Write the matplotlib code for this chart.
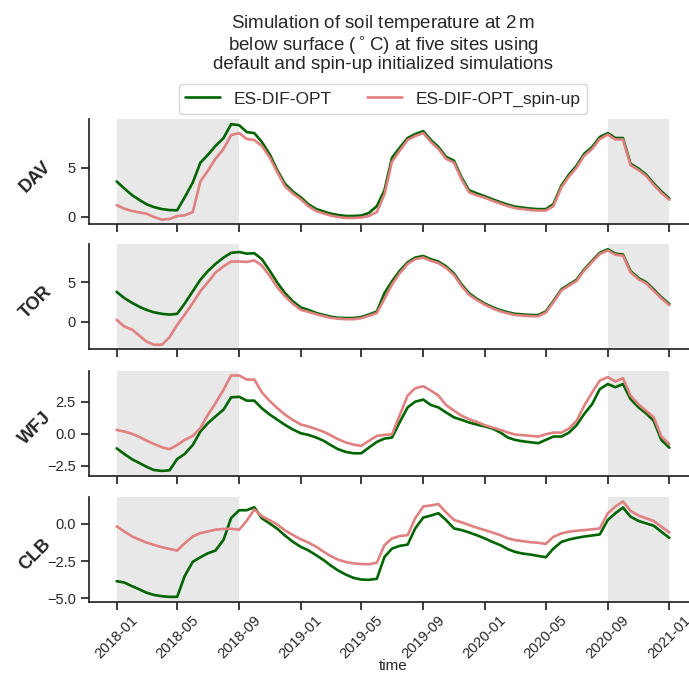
import numpy as np
import pandas as pd
import matplotlib
matplotlib.use("Agg")
import matplotlib.pyplot as plt
import matplotlib.dates as mdates
import seaborn as sns

# semi-monthly sampling dates (1st and 16th of each month), 2018-01-01 .. 2021-01-01
month_starts = pd.date_range("2018-01-01", "2020-12-01", freq="MS")
dates = []
for m in month_starts:
    dates.append(m)
    dates.append(m + pd.Timedelta(days=15))
dates.append(pd.Timestamp("2021-01-01"))

sites = ["DAV", "TOR", "WFJ", "CLB"]
series_names = ["ES-DIF-OPT", "ES-DIF-OPT_spin-up"]

# soil temperature at 2 m (deg C), default initialisation
dav_default = [3.6, 2.9, 2.2, 1.7, 1.3, 1.0, 0.8, 0.7, 0.68, 2.0, 3.5, 5.5,
               6.3, 7.2, 8.0, 9.4, 9.3, 8.6, 8.5, 7.6, 6.3, 4.7, 3.35, 2.6,
               2.0, 1.3, 0.8, 0.55, 0.35, 0.2, 0.1, 0.1, 0.15, 0.4, 1.1, 2.7,
               6.0, 7.0, 8.0, 8.4, 8.7, 7.8, 7.1, 6.1, 5.7, 4.0, 2.7, 2.4,
               2.1, 1.8, 1.5, 1.25, 1.05, 0.95, 0.85, 0.8, 0.8, 1.3, 3.2, 4.3,
               5.2, 6.4, 7.1, 8.1, 8.5, 8.0, 8.0, 5.4, 4.9, 4.3, 3.4, 2.6,
               1.88]
tor_default = [3.77, 3.0, 2.37, 1.86, 1.5, 1.19, 1.0, 0.9, 1.0, 2.3, 3.85, 5.3,
               6.4, 7.3, 8.1, 8.7, 8.8, 8.6, 8.65, 7.9, 6.4, 4.9, 3.6, 2.6,
               1.8, 1.5, 1.1, 0.85, 0.65, 0.5, 0.47, 0.47, 0.6, 0.9, 1.3, 3.6,
               5.1, 6.4, 7.5, 8.1, 8.3, 7.9, 7.6, 7.0, 6.1, 4.7, 3.6, 2.9,
               2.3, 1.85, 1.45, 1.2, 1.0, 0.93, 0.85, 0.85, 1.3, 2.6, 4.1, 4.7,
               5.3, 6.6, 7.7, 8.7, 9.15, 8.6, 8.5, 6.4, 5.5, 5.0, 4.07, 3.1,
               2.25]
wfj_default = [-1.13, -1.57, -2.0, -2.3, -2.57, -2.83, -2.9, -2.85, -1.97, -1.57, -0.87, 0.18,
               0.84, 1.36, 1.9, 2.86, 2.9, 2.6, 2.6, 2.0, 1.5, 1.1, 0.7, 0.35,
               0.05, -0.08, -0.29, -0.55, -0.87, -1.2, -1.42, -1.52, -1.52, -1.08, -0.63, -0.37,
               -0.29, 0.89, 2.07, 2.52, 2.68, 2.26, 2.07, 1.68, 1.29, 1.1, 0.89, 0.73,
               0.58, 0.42, 0.1, -0.29, -0.47, -0.58, -0.66, -0.73, -0.47, -0.21, -0.21, 0.1,
               0.68, 1.55, 2.34, 3.5, 3.9, 3.65, 3.9, 2.73, 2.07, 1.6, 1.02, -0.47,
               -1.08]
clb_default = [-3.85, -3.94, -4.19, -4.41, -4.62, -4.77, -4.86, -4.9, -4.9, -3.5, -2.55, -2.25,
               -1.98, -1.8, -1.08, 0.38, 0.9, 0.9, 1.1, 0.36, 0.0, -0.35, -0.8, -1.2,
               -1.55, -1.78, -2.12, -2.45, -2.79, -3.13, -3.42, -3.63, -3.74, -3.76, -3.69, -2.23,
               -1.67, -1.49, -1.4, -0.32, 0.41, 0.54, 0.7, 0.25, -0.32, -0.43, -0.59, -0.77,
               -0.99, -1.22, -1.44, -1.71, -1.89, -2.0, -2.07, -2.16, -2.25, -1.67, -1.22, -1.06,
               -0.95, -0.86, -0.79, -0.72, 0.25, 0.7, 1.08, 0.47, 0.18, 0.02, -0.14, -0.54,
               -0.95]

# soil temperature at 2 m (deg C), spin-up initialisation
dav_spinup = [1.2, 0.85, 0.6, 0.45, 0.34, 0.0, -0.27, -0.2, 0.1, 0.17, 0.5, 3.6,
              4.7, 5.9, 6.9, 8.3, 8.5, 7.9, 7.8, 7.2, 6.0, 4.5, 3.1, 2.4,
              1.8, 1.1, 0.6, 0.35, 0.15, 0.0, -0.1, -0.1, -0.05, 0.1, 0.5, 2.3,
              5.6, 6.7, 7.8, 8.2, 8.5, 7.6, 6.9, 5.9, 5.5, 3.8, 2.5, 2.2,
              1.95, 1.65, 1.35, 1.1, 0.9, 0.8, 0.7, 0.65, 0.65, 1.1, 3.0, 4.1,
              5.0, 6.2, 6.9, 7.9, 8.35, 7.85, 7.85, 5.25, 4.75, 4.15, 3.25, 2.45,
              1.75]
tor_spinup = [0.25, -0.6, -1.0, -1.8, -2.5, -2.9, -2.9, -1.95, -0.4, 0.9, 2.37, 3.85,
              5.0, 6.2, 7.0, 7.6, 7.6, 7.55, 7.75, 7.1, 5.75, 4.3, 3.2, 2.3,
              1.5, 1.25, 0.95, 0.7, 0.5, 0.38, 0.32, 0.32, 0.45, 0.75, 1.1, 2.9,
              4.7, 6.1, 7.3, 7.9, 8.1, 7.7, 7.4, 6.8, 5.9, 4.5, 3.4, 2.75,
              2.15, 1.7, 1.3, 1.05, 0.85, 0.78, 0.7, 0.7, 1.15, 2.45, 3.95, 4.55,
              5.15, 6.45, 7.55, 8.55, 9.0, 8.45, 8.35, 6.25, 5.35, 4.85, 3.9, 2.95,
              2.1]
wfj_spinup = [0.31, 0.18, 0.0, -0.26, -0.52, -0.79, -1.05, -1.2, -0.87, -0.47, -0.16, 0.45,
              1.5, 2.4, 3.46, 4.57, 4.57, 4.25, 4.25, 3.25, 2.55, 2.0, 1.5, 1.1,
              0.74, 0.58, 0.37, 0.16, -0.1, -0.42, -0.68, -0.84, -0.94, -0.55, -0.16, -0.08,
              -0.03, 1.42, 3.0, 3.57, 3.73, 3.39, 3.0, 2.26, 1.81, 1.42, 1.15, 0.94,
              0.68, 0.5, 0.31, 0.1, -0.05, -0.1, -0.16, -0.21, -0.03, 0.1, 0.1, 0.42,
              1.02, 2.2, 3.25, 4.17, 4.44, 4.1, 4.36, 3.0, 2.3, 1.8, 1.3, -0.2,
              -0.81]
clb_spinup = [-0.18, -0.52, -0.86, -1.08, -1.26, -1.42, -1.58, -1.69, -1.8, -1.31, -0.86, -0.63,
              -0.52, -0.4, -0.36, -0.34, -0.4, 0.2, 0.95, 0.5, 0.22, -0.07, -0.45, -0.75,
              -1.04, -1.26, -1.55, -1.89, -2.16, -2.41, -2.57, -2.66, -2.7, -2.72, -2.61, -1.44,
              -0.99, -0.83, -0.77, 0.36, 1.15, 1.22, 1.31, 0.77, 0.25, 0.09, -0.09, -0.27,
              -0.43, -0.59, -0.77, -0.99, -1.1, -1.17, -1.24, -1.28, -1.35, -0.88, -0.65, -0.54,
              -0.47, -0.43, -0.38, -0.32, 0.7, 1.15, 1.49, 0.86, 0.54, 0.36, 0.18, -0.2,
              -0.59]

yticks = {
    "DAV": [0, 5],
    "TOR": [0, 5],
    "WFJ": [-2.5, 0.0, 2.5],
    "CLB": [-5.0, -2.5, 0.0],
}

# shaded periods
shade_periods = [("2018-01-01", "2018-09-01"), ("2020-09-01", "2021-01-01")]

default_data = {"DAV": dav_default, "TOR": tor_default, "WFJ": wfj_default, "CLB": clb_default}
spinup_data = {"DAV": dav_spinup, "TOR": tor_spinup, "WFJ": wfj_spinup, "CLB": clb_spinup}

sns.set_theme(style="ticks", context="notebook")
plt.rcParams["font.family"] = ["Liberation Sans", "DejaVu Sans"]

fig = plt.figure(figsize=(6.89, 6.76), dpi=100)
W, H = 689, 676
ax_left = 89 / W
ax_width = (697 - 89) / W
ax_h = 105 / H
bottoms = [0.668, 0.483, 0.2963, 0.110]

axes = []
for i, site in enumerate(sites):
    ax = fig.add_axes([ax_left, bottoms[i], ax_width, ax_h],
                      sharex=axes[0] if axes else None)
    axes.append(ax)
    for start, end in shade_periods:
        ax.axvspan(pd.Timestamp(start), pd.Timestamp(end), color="lightgray", alpha=0.5, lw=0)
    ax.plot(dates, default_data[site], color="darkgreen", lw=1.9, label=series_names[0])
    ax.plot(dates, spinup_data[site], color="#e08080", lw=1.9, label=series_names[1])
    ax.set_yticks(yticks[site])
    ax.tick_params(axis="both", labelsize=10.5)
    ax.set_ylabel(site, rotation=45, fontweight="bold", fontsize=13,
                  ha="center", va="center", rotation_mode="default")
    ax.yaxis.set_label_coords(-0.088, 0.45)
    sns.despine(ax=ax)
    if i < len(sites) - 1:
        plt.setp(ax.get_xticklabels(), visible=False)

axes[-1].xaxis.set_major_locator(mdates.MonthLocator(bymonth=[1, 5, 9]))
axes[-1].xaxis.set_major_formatter(mdates.DateFormatter("%Y-%m"))
for lab in axes[-1].get_xticklabels():
    lab.set_rotation(45)
    lab.set_ha("center")
axes[-1].tick_params(axis="x", pad=2)
axes[-1].set_xlabel("time", fontsize=11, labelpad=-1)

fig.text(383 / W, 1 - 13 / H,
         "Simulation of soil temperature at 2$\\,$m\n"
         "below surface ($^\\circ$C) at five sites using\n"
         "default and spin-up initialized simulations",
         ha="center", va="top", fontsize=13.5, color=".15", linespacing=1.0)

handles, labels = axes[0].get_legend_handles_labels()
fig.legend(handles, labels, loc="center", bbox_to_anchor=(383 / W, 1 - 99 / H),
           ncol=2, fontsize=12.5, frameon=True)

fig.savefig("out.png", dpi=100)
